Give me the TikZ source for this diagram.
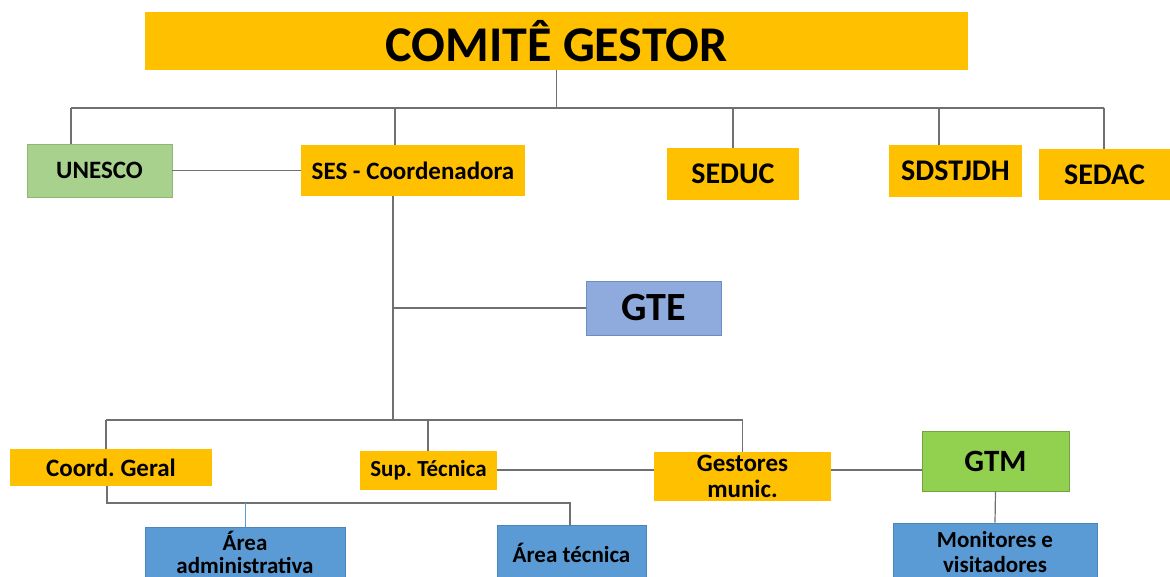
\documentclass[tikz,border=0pt]{standalone}
\usepackage{fontspec}
\setmainfont{Carlito}
\frenchspacing
\definecolor{orng}{HTML}{FFC000}
\definecolor{lgreen}{HTML}{A9D18E}
\definecolor{lgreenb}{HTML}{8DB872}
\definecolor{bgreen}{HTML}{92D050}
\definecolor{bgreenb}{HTML}{74A43F}
\definecolor{lav}{HTML}{8FAADC}
\definecolor{lavb}{HTML}{6C8EBF}
\definecolor{bblue}{HTML}{5B9BD5}
\definecolor{bblueb}{HTML}{4A86BE}
\definecolor{lgray}{HTML}{707070}
\begin{document}
\begin{tikzpicture}[x=1pt,y=-1pt,
  box/.style={rectangle,inner sep=0pt,align=center,font=\bfseries},
  obox/.style={box,fill=orng},
  gbox/.style={box,fill=lgreen,draw=lgreenb,line width=0.8pt},
  gtmbox/.style={box,fill=bgreen,draw=bgreenb,line width=0.8pt},
  lbox/.style={box,fill=lav,draw=lavb,line width=0.8pt},
  bbox/.style={box,fill=bblue,draw=bblueb,line width=0.8pt},
  conn/.style={draw=lgray,line width=1.2pt},
  bconn/.style={draw=bblue,line width=0.9pt}]
\useasboundingbox (0,0) rectangle (1170,577);
\fill[white] (0,0) rectangle (1170,577);

% nodes
\node[obox,minimum width=823pt,minimum height=58pt,font=\bfseries\fontsize{50}{54}\selectfont] (cg) at (556.5,41) {COMITÊ GESTOR};
\node[gbox,minimum width=145pt,minimum height=53pt,font=\bfseries\fontsize{25}{27}\selectfont] (unesco) at (99.5,170.5) {UNESCO};
\node[obox,minimum width=224pt,minimum height=51pt,font=\bfseries\fontsize{25}{27}\selectfont] (ses) at (413,170.5) {SES - Coordenadora};
\node[obox,minimum width=132pt,minimum height=52pt,font=\bfseries\fontsize{30}{32}\selectfont] (seduc) at (733,174) {SEDUC};
\node[obox,minimum width=133pt,minimum height=52pt,font=\bfseries\fontsize{30}{32}\selectfont] (sds) at (955.5,171) {SDSTJDH};
\node[obox,minimum width=131pt,minimum height=51pt,font=\bfseries\fontsize{30}{32}\selectfont] (sedac) at (1104.5,174.5) {SEDAC};
\node[lbox,minimum width=135pt,minimum height=54pt,font=\bfseries\fontsize{40}{42}\selectfont] (gte) at (653.5,308) {GTE};
\node[obox,minimum width=202pt,minimum height=37pt,font=\bfseries\fontsize{25}{27}\selectfont] (coord) at (111,467.5) {Coord. Geral};
\node[obox,minimum width=137pt,minimum height=39pt,font=\bfseries\fontsize{23}{25}\selectfont] (sup) at (428.5,470.5) {Sup. Técnica};
\node[obox,minimum width=177pt,minimum height=49pt,font=\bfseries\fontsize{25}{26}\selectfont] (gest) at (742.5,476.5) {Gestores\\munic.};
\node[gtmbox,minimum width=147pt,minimum height=60pt,font=\bfseries\fontsize{31}{33}\selectfont] (gtm) at (995.5,461) {GTM};
\node[bbox,minimum width=200pt,minimum height=50pt,font=\bfseries\fontsize{23}{23}\selectfont] (adm) at (245,552) {Área\\administrativa};
\node[bbox,minimum width=149pt,minimum height=56pt,font=\bfseries\fontsize{23}{25}\selectfont] (tec) at (571.5,553) {Área técnica};
\node[bbox,minimum width=204pt,minimum height=58pt,font=\bfseries\fontsize{23}{25}\selectfont] (mon) at (995,552) {Monitores e\\visitadores};

% top bus
\coordinate (tbL) at (71,108);
\coordinate (tbR) at (1104,108);
\coordinate (tS) at (395,108);
\coordinate (tD) at (939,108);
\draw[conn] (tbL) -- (tbR);
\draw[conn] (cg.south) -- (cg.south |- tbL);
\draw[conn] (tbL) -- (tbL |- unesco.north);
\draw[conn] (tS) -- (tS |- ses.north);
\draw[conn] (seduc.north |- tbL) -- (seduc.north);
\draw[conn] (tD) -- (tD |- sds.north);
\draw[conn] (tbR) -- (tbR |- sedac.north);
\draw[conn] (unesco.east) -- (ses.west |- unesco.east);

% middle spine
\coordinate (mb) at (393,420);
\draw[conn] (mb |- ses.south) -- (mb);
\draw[conn] (gte.west) -- (gte.west -| mb);

% bottom bus
\coordinate (bbL) at (106,420);
\coordinate (bbS) at (428,420);
\draw[conn] (bbL) -- (gest.north |- bbL) -- (gest.north);
\draw[conn] (bbL) -- (bbL |- coord.north);
\draw[conn] (bbS) -- (bbS |- sup.north);
\coordinate (hl) at (0,470);
\draw[conn] (sup.east |- hl) -- (gest.west |- hl);
\draw[conn] (gest.east |- hl) -- (gtm.west |- hl);
\draw[conn] (gtm.south) -- (mon.north);

% coord to areas
\coordinate (cb) at (107,503);
\coordinate (ct) at (570,503);
\draw[conn] (cb |- coord.south) -- (cb) -- (ct) -- (ct |- tec.north);
\draw[bconn] (adm.north |- cb) -- (adm.north);
\end{tikzpicture}
\end{document}
